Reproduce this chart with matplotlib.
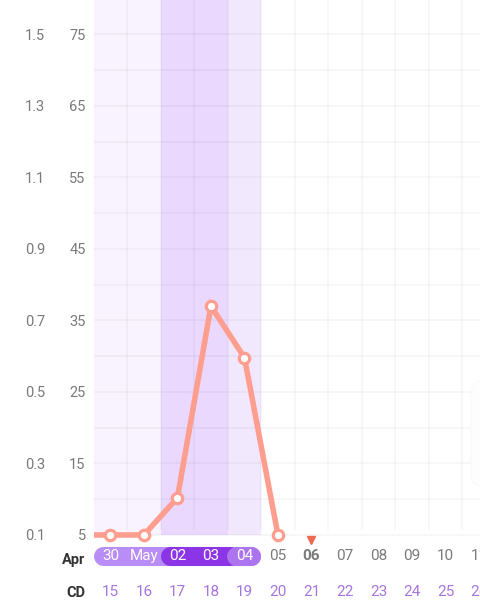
import matplotlib
matplotlib.use('Agg')
import matplotlib.pyplot as plt
from matplotlib.patches import FancyBboxPatch
from matplotlib.transforms import IdentityTransform

plt.rcParams['font.family'] = ['Roboto', 'DejaVu Sans']

# chart values
cd_days = [14, 15, 16, 17, 18, 19, 20]
values = [5, 5, 5, 10.2, 37, 29.8, 5]

tick_vals = [5, 15, 25, 35, 45, 55, 65, 75]
tick_labels = ['5', '15', '25', '35', '45', '55', '65', '75']
left_labels = ['0.1', '0.3', '0.5', '0.7', '0.9', '1.1', '1.3', '1.5']

row_days = [15, 16, 17, 18, 19, 20, 21, 22, 23, 24, 25, 26]
date_labels = ['30', 'May', '02', '03', '04', '05', '06', '07', '08', '09', '10', '11']
today_day = 21

GRID = '#000000'
LINE = '#FF9E8F'
GREY = '#7A7A7A'
PURPLE = '#A775E0'

Y_BOTTOM = -4.09
Y_TOP = 79.8
ROW_DATE = 2.0
ROW_CD = -2.95

fig = plt.figure(figsize=(4.8, 6), dpi=100)
ax = fig.add_axes([94 / 480, 0, 386 / 480, 1])
ax.set_xlim(14.51, 26.03)
ax.set_ylim(Y_BOTTOM, Y_TOP)
for s in ax.spines.values():
    s.set_visible(False)

# shaded phases
ax.fill_between([14.5, 16.5], 5, Y_TOP, color='#F8F3FE', lw=0, zorder=1)
ax.fill_between([16.5, 18.5], 5, Y_TOP, color='#EAD8FE', lw=0, zorder=1)
ax.fill_between([18.5, 19.5], 5, Y_TOP, color='#F1E8FE', lw=0, zorder=1)

# grid
ax.hlines(range(5, 80, 5), 14.5, 26.1, color=GRID, alpha=0.04, lw=1.2, zorder=2)
ax.vlines([d + 0.5 for d in range(15, 26)], 5.7, Y_TOP, color=GRID, alpha=0.04, lw=1.2, zorder=2)

# faint card at the right edge
ax.add_patch(FancyBboxPatch((471, 113), 30, 107, boxstyle='round,pad=0,rounding_size=14',
                            transform=IdentityTransform(), fc='#FDFDFD', ec='#F9F9F9',
                            lw=0.8, zorder=3))

ax.plot(cd_days, values, color=LINE, lw=4, zorder=4, marker='o', ms=7.5,
        mfc='white', mec=LINE, mew=2.3, solid_joinstyle='miter', clip_on=True)

# date pills
ax.plot([14.79, 19.21], [ROW_DATE, ROW_DATE], color='#B98DF6', lw=13.7,
        solid_capstyle='round', zorder=3)
ax.plot([16.79, 18.57], [ROW_DATE, ROW_DATE], color='#8B35E6', lw=13.7,
        solid_capstyle='round', zorder=3.1)
ax.plot([18.76, 19.21], [ROW_DATE, ROW_DATE], color='#AC74EF', lw=13.7,
        solid_capstyle='round', zorder=3.2)

ax.plot([today_day], [4.3], marker='v', color='#F2694E', ms=5.5, ls='none', zorder=4)

for day, date in zip(row_days, date_labels):
    colour = 'white' if day < 20 else GREY
    weight = 'bold' if day == today_day else 'normal'
    ax.text(day, ROW_DATE, date, color=colour, fontsize=11, weight=weight,
            ha='center', va='center', zorder=5)
    ax.text(day, ROW_CD, str(day), color=PURPLE, fontsize=11,
            ha='center', va='center', zorder=5)

ax.text(14.26, ROW_DATE - 0.5, 'Apr', color='#333333', fontsize=10.5, weight='bold',
        ha='right', va='center')
ax.text(14.26, ROW_CD - 0.2, 'CD', color='#333333', fontsize=10.5, weight='bold',
        ha='right', va='center')

# two columns of y labels
ax.set_xticks([])
ax.set_yticks(tick_vals, tick_labels)
ax.tick_params(axis='y', length=0, pad=6, labelsize=10.5, labelcolor=GREY)
sec = ax.secondary_yaxis('left')
sec.set_yticks(tick_vals, left_labels)
sec.tick_params(axis='y', length=0, pad=35, labelsize=10.5, labelcolor=GREY)
sec.spines['left'].set_visible(False)

fig.savefig('out.png', dpi=100)
